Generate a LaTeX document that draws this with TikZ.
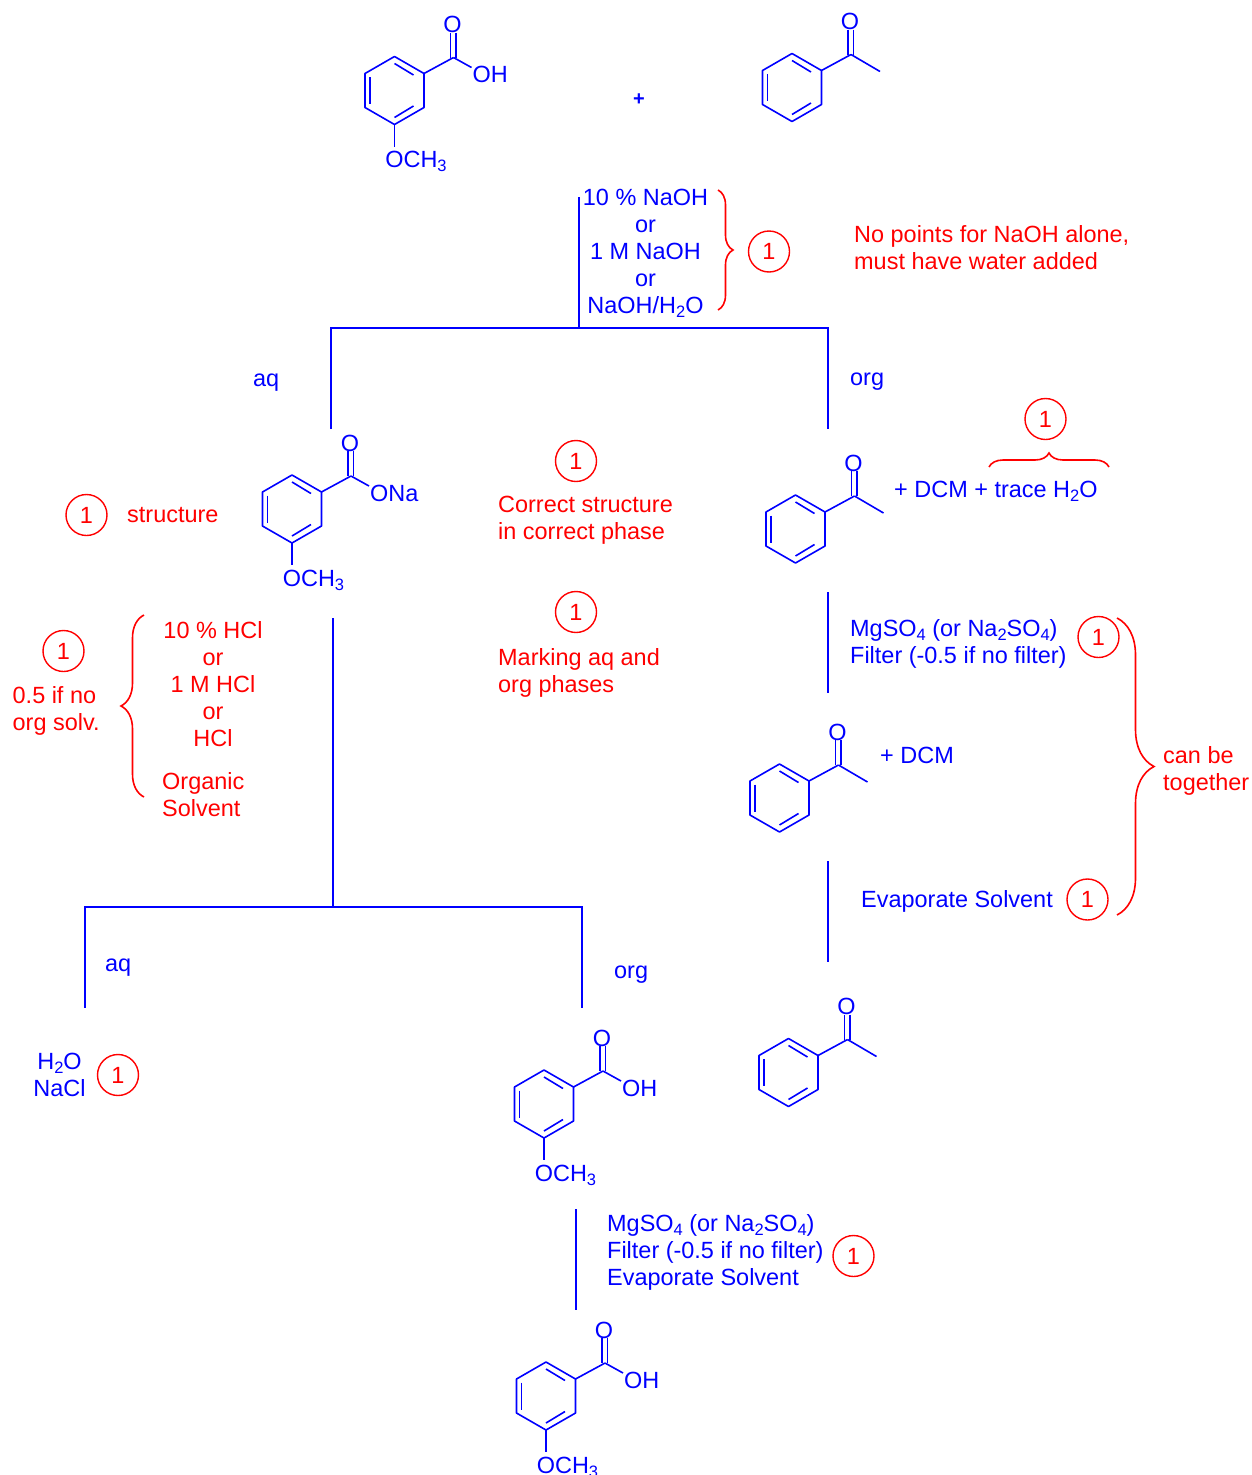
\documentclass[tikz,border=0pt]{standalone}
\usepackage{fontspec}
\setmainfont{Liberation Sans}
\usetikzlibrary{decorations.pathreplacing}
\definecolor{hwblue}{RGB}{0,0,255}
\definecolor{hwred}{RGB}{255,0,0}
\newcommand\lowidx[1]{\raisebox{-4pt}{\fontsize{16.5}{16.5}\selectfont #1}}

\begin{document}
\begin{tikzpicture}[
    x=1pt, y=-1pt,
    %% ── text styles ──────────────────────────────────────────────────────────
    hwtext/.style={
        inner sep=0pt, yshift=-3.5pt, font=\fontsize{23.45}{27}\selectfont,
        execute at begin node=\strut, execute at end node=\strut
    },
    bluetext/.style={hwtext, text=hwblue, align=#1},
    bluetext/.default=left,
    redtext/.style={hwtext, text=hwred, align=#1},
    redtext/.default=left,
    %% ── mark and line styles ─────────────────────────────────────────────────
    markone/.style={
        circle, draw=hwred, line width=1.4pt, minimum size=41pt, inner sep=0pt,
        text=hwred, font=\fontsize{23.45}{27}\selectfont
    },
    redbrace/.style={
        draw=hwred, line width=1.6pt, decorate,
        decoration={brace, amplitude=#1}
    },
    phaseline/.style={draw=hwblue, line width=2pt},
    bondline/.style={draw=hwblue, line width=1.6pt, line join=round},
    %% ── molecules ────────────────────────────────────────────────────────────
    benzring/.pic={
        \draw[bondline] (0,-34) -- (29.5,-17) -- (29.5,17) -- (0,34)
            -- (-29.5,17) -- (-29.5,-17) -- cycle;
        \draw[bondline] (0,-27) -- (19,-15.5);
        \draw[bondline] (-24.5,-13.5) -- (-24.5,13.5);
        \draw[bondline] (0,27) -- (19,15.5);
        \draw[bondline] (29.5,-17) -- (59,-33);
        \draw[bondline] (56,-58) -- (56,-33);
        \draw[bondline] (61.5,-58) -- (61.5,-33);
        \node[bluetext] (-oxo) at (58,-66.5) {O};
    },
    benzketone/.pic={
        \pic {benzring};
        \draw[bondline] (59,-33) -- (88,-16);
    },
    benzacid/.pic={
        \pic {benzring};
        \draw[bondline] (59,-33) -- (77,-23);
        \draw[bondline] (0,34) -- (0,56);
        \node[bluetext, anchor=west] (-acid) at (78,-16.5) {#1};
        \node[bluetext] (-meth) at (21.5,68.5) {OCH\lowidx{3}};
    },
]
\useasboundingbox (0,0) rectangle (1252,1475);

%% ── Starting materials ───────────────────────────────────────────────────────
\pic (acidtop) at (394.5,90.5) {benzacid=OH};
\pic (ketotop) at (792,87.5) {benzketone};
\node[bluetext, font=\fontsize{20}{27}\selectfont\bfseries] (plus) at (639,96.5) {+};

%% ── First extraction ─────────────────────────────────────────────────────────
\coordinate (stemtop) at (579,197);
\coordinate (stemend) at (579,327.5);
\coordinate (aqtop)   at (331,327.5);
\coordinate (aqend)   at (331,429);
\coordinate (orgtop)  at (828,327.5);
\coordinate (orgend)  at (828,429);
\draw[phaseline] (stemtop) -- (stemend);
\draw[phaseline] (aqend) -- (aqtop) -- (orgtop) -- (orgend);

\node[bluetext=center] (base) at (645.5,252)
    {10 \% NaOH\\or\\1 M NaOH\\or\\NaOH/H\lowidx{2}O};
\coordinate (baseup)  at (718,190);
\coordinate (basedn)  at (718,310);
\draw[redbrace=15pt] (baseup) -- (basedn);
\node[markone] (markbase) at (769,251.5) {1};
\node[redtext, anchor=west] (noteb) at (854,248.5)
    {No points for NaOH alone,\\must have water added};
\node[bluetext, anchor=west] (aqone)  at (253,378) {aq};
\node[bluetext, anchor=west] (orgone) at (850,377) {org};

%% ── Aqueous phase ────────────────────────────────────────────────────────────
\pic (salt) at (292,509) {benzacid=ONa};
\node[markone] (marksalt) at (86.5,515) {1};
\node[redtext, anchor=west] (struct) at (127,514) {structure};

\node[markone] (markphase) at (576,461) {1};
\node[redtext, anchor=west] (corr) at (498,518.5)
    {Correct structure\\in correct phase};
\node[markone] (markaq) at (576,612) {1};
\node[redtext, anchor=west] (marking) at (498,671.5)
    {Marking aq and\\org phases};

%% ── Acidification ────────────────────────────────────────────────────────────
\coordinate (acidtopl) at (333,618);
\coordinate (acidjoin) at (333,907);
\coordinate (aqtwotop) at (85,907);
\coordinate (aqtwoend) at (85,1007.5);
\coordinate (orgtwotop) at (582,907);
\coordinate (orgtwoend) at (582,1007.5);
\draw[phaseline] (acidtopl) -- (acidjoin);
\draw[phaseline] (aqtwoend) -- (aqtwotop) -- (orgtwotop) -- (orgtwoend);

\node[redtext=center] (hcl) at (213,685)
    {10 \% HCl\\or\\1 M HCl\\or\\HCl};
\node[redtext, anchor=west] (orgsolv) at (162,795.5) {Organic\\Solvent};
\coordinate (hclup) at (144,615);
\coordinate (hcldn) at (144,797);
\draw[redbrace=23pt] (hcldn) -- (hclup);
\node[markone] (markhcl) at (63.5,651) {1};
\node[redtext, anchor=west] (halfpt) at (12.5,709.5) {0.5 if no\\org solv.};

\node[bluetext, anchor=west] (aqtwo)  at (105,963) {aq};
\node[bluetext, anchor=west] (orgtwo) at (614,970) {org};
\node[bluetext=center] (brine) at (59.5,1075.5) {H\lowidx{2}O\\NaCl};
\node[markone] (markbrine) at (118,1075) {1};

%% ── Recovered acid ───────────────────────────────────────────────────────────
\pic (acidorg) at (544,1104) {benzacid=OH};
\coordinate (dryatop) at (576,1209);
\coordinate (dryaend) at (576,1309.5);
\draw[phaseline] (dryatop) -- (dryaend);
\node[bluetext, anchor=west] (drya) at (607,1251)
    {MgSO\lowidx{4} (or Na\lowidx{2}SO\lowidx{4})\\Filter (-0.5 if no filter)\\Evaporate Solvent};
\node[markone] (markdrya) at (853.5,1256) {1};
\pic (acidend) at (546,1396) {benzacid=OH};

%% ── Organic phase ────────────────────────────────────────────────────────────
\pic (ketoorg) at (795.5,529) {benzketone};
\node[bluetext, anchor=west] (dcmwet) at (894,489) {+ DCM + trace H\lowidx{2}O};
\coordinate (traceup) at (989,467);
\coordinate (tracedn) at (1109,467);
\draw[redbrace=14pt] (traceup) -- (tracedn);
\node[markone] (marktrace) at (1045.5,419) {1};

\coordinate (drybtop) at (828,592);
\coordinate (drybend) at (828,692.5);
\draw[phaseline] (drybtop) -- (drybend);
\node[bluetext, anchor=west] (dryb) at (850,642)
    {MgSO\lowidx{4} (or Na\lowidx{2}SO\lowidx{4})\\Filter (-0.5 if no filter)};
\node[markone] (markdryb) at (1098.5,637) {1};

\pic (ketodry) at (779.5,798) {benzketone};
\node[bluetext, anchor=west] (dcm) at (880,755) {+ DCM};

\coordinate (evaptop) at (828,861);
\coordinate (evapend) at (828,961.5);
\draw[phaseline] (evaptop) -- (evapend);
\node[bluetext, anchor=west] (evap) at (861,899) {Evaporate Solvent};
\node[markone] (markevap) at (1087.5,899.5) {1};

\coordinate (togup) at (1117,618);
\coordinate (togdn) at (1117,915);
\draw[redbrace=37pt] (togup) -- (togdn);
\node[redtext, anchor=west] (together) at (1163,769.5) {can be\\together};

\pic (ketoend) at (788.5,1072.5) {benzketone};

\end{tikzpicture}
\end{document}
